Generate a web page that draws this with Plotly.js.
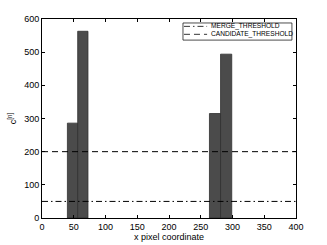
<!DOCTYPE html>
<html>
<head>
<meta charset="utf-8">
<script src="https://cdn.plot.ly/plotly-3.0.1.min.js"></script>
<style>html,body{margin:0;padding:0;background:#fff;}#chart{width:327px;height:245px;}</style>
</head>
<body>
<div id="chart"></div>
<script>
const barCenters = [48.1, 64.3, 272.5, 290.0];
const barWidths = [16.2, 16.2, 17.6, 17.6];
const barHeights = [286, 563, 315, 494];
const xRange = [0, 400];
const mergeThreshold = 50;
const candidateThreshold = 200;
const seriesNames = ['MERGE_THRESHOLD', 'CANDIDATE_THRESHOLD'];

const dashMerge = '6px,3px,1.5px,3px';
const dashCand = '6px,4px';

const traces = [
  {
    type: 'bar', x: barCenters, y: barHeights, width: barWidths,
    marker: {color: '#4b4b4b', line: {color: '#2e2e2e', width: 0.8}},
    showlegend: false, hoverinfo: 'skip'
  },
  {
    type: 'scatter', mode: 'lines', x: xRange, y: [mergeThreshold, mergeThreshold],
    name: seriesNames[0], line: {color: '#000', width: 1, dash: dashMerge}, showlegend: false
  },
  {
    type: 'scatter', mode: 'lines', x: xRange, y: [candidateThreshold, candidateThreshold],
    name: seriesNames[1], line: {color: '#000', width: 1, dash: dashCand}, showlegend: false
  }
];

const axisCommon = {
  showline: true, linecolor: '#000', linewidth: 1, mirror: 'ticks',
  ticks: 'inside', ticklen: 3, tickcolor: '#000', showgrid: false, zeroline: false,
  tickfont: {family: 'Liberation Sans, Arial, sans-serif', size: 9, color: '#000'}
};

// custom legend (paper coordinates)
const legX0 = 0.555, legX1 = 0.984, legY0 = 0.894, legY1 = 0.980;
const sampleX0 = 0.559, sampleX1 = 0.650, textX = 0.657;
const rowY = [0.963, 0.923];
const dashes = [dashMerge, dashCand];

const shapes = [{
  type: 'rect', xref: 'paper', yref: 'paper', x0: legX0, x1: legX1, y0: legY0, y1: legY1,
  line: {color: '#000', width: 0.7}, fillcolor: '#fff', layer: 'above'
}];
const annotations = [];
seriesNames.forEach((n, i) => {
  shapes.push({
    type: 'line', xref: 'paper', yref: 'paper', x0: sampleX0, x1: sampleX1, y0: rowY[i], y1: rowY[i],
    line: {color: '#000', width: 0.8, dash: dashes[i]}, layer: 'above'
  });
  annotations.push({
    xref: 'paper', yref: 'paper', x: textX, y: rowY[i], xanchor: 'left', yanchor: 'middle',
    text: n, showarrow: false, font: {size: 6.6, color: '#000'}
  });
});

const layout = {
  width: 327, height: 245,
  margin: {l: 42, r: 31, t: 19, b: 27},
  paper_bgcolor: '#fff', plot_bgcolor: '#fff',
  bargap: 0,
  font: {family: 'Liberation Sans, Arial, sans-serif', size: 9, color: '#000'},
  xaxis: Object.assign({}, axisCommon, {
    range: xRange, dtick: 50, tick0: 0,
    title: {text: 'x pixel coordinate', standoff: 2, font: {size: 9}}
  }),
  yaxis: Object.assign({}, axisCommon, {
    range: [0, 600], dtick: 100, tick0: 0,
    title: {text: 'c<sup>[n]</sup>', standoff: 6, font: {size: 9}}
  }),
  shapes: shapes,
  annotations: annotations,
  showlegend: false
};

Plotly.newPlot('chart', traces, layout, {staticPlot: true, displayModeBar: false});
</script>
</body>
</html>
